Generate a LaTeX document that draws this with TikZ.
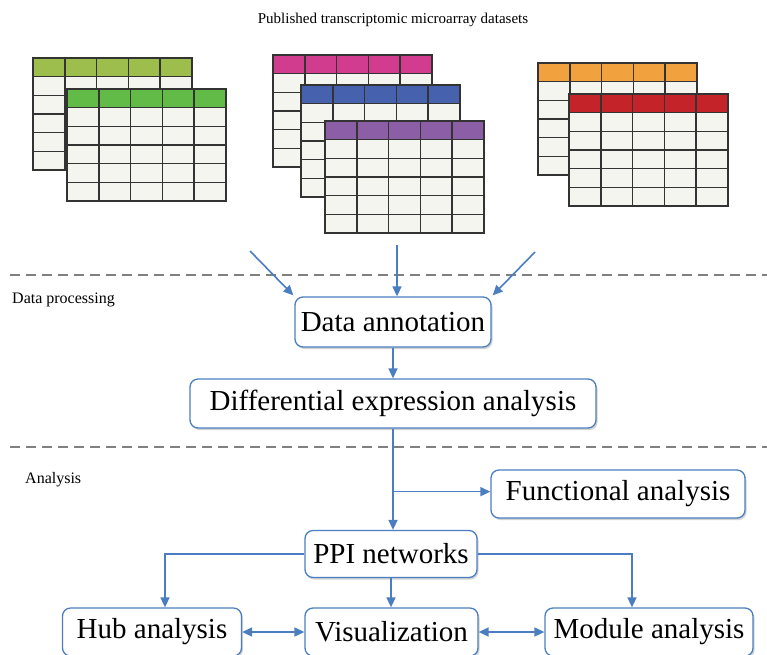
\documentclass[tikz,border=0pt]{standalone}
\usepackage{fontspec}
\setmainfont{Liberation Serif}
\usetikzlibrary{arrows.meta,shadows,calc}
\definecolor{arrblue}{HTML}{4A7EC0}
\definecolor{cellbg}{HTML}{F4F5EF}
\definecolor{gridc}{HTML}{333333}
\definecolor{dashc}{HTML}{808080}
\definecolor{colA}{HTML}{9DBD4C}
\definecolor{colB}{HTML}{62BA47}
\definecolor{colC}{HTML}{D23C8F}
\definecolor{colD}{HTML}{4661AE}
\definecolor{colE}{HTML}{8B5EA6}
\definecolor{colF}{HTML}{F1A13E}
\definecolor{colG}{HTML}{C42329}
\newcommand\datatable[3]{%
  \fill[cellbg] (#1,#2) rectangle ++(159,112);
  \fill[#3] (#1,#2) rectangle ++(159,18.67);
  \foreach \i in {0,...,5}{\draw[gridline] (#1+\i*31.8,#2) -- ++(0,112);}
  \foreach \j in {0,...,6}{\draw[gridline] (#1,#2+\j*18.667) -- ++(159,0);}
}
\begin{document}
\begin{tikzpicture}[x=1pt,y=-1pt,
  gridline/.style={draw=gridc,line width=1.6pt,line cap=rect},
  flowbox/.style={draw=arrblue,line width=1.3pt,rounded corners=8pt,fill=white,
    drop shadow={shadow xshift=1.5pt,shadow yshift=-2pt,fill=black!35},
    font=\fontsize{29}{31}\selectfont,inner sep=0pt,anchor=center},
  arr/.style={draw=arrblue,line width=1.6pt,-{Triangle[length=10pt,width=9pt]}},
  darr/.style={draw=arrblue,line width=1.6pt,{Triangle[length=10pt,width=9pt]}-{Triangle[length=10pt,width=9pt]}},
  sep/.style={draw=dashc,line width=2.6pt,dash pattern=on 10pt off 6pt},
  lbl/.style={font=\fontsize{16}{18}\selectfont,inner sep=0pt}]
\useasboundingbox (0,0) rectangle (767,654);
\clip (0,0) rectangle (767,654);

\node[font=\fontsize{15}{17}\selectfont,inner sep=0pt] (title) at (393,20) {Published transcriptomic microarray datasets};

% tables
\datatable{33}{58}{colA}
\datatable{67}{89}{colB}
\datatable{273}{55}{colC}
\datatable{301}{85}{colD}
\datatable{325}{121}{colE}
\datatable{538}{63}{colF}
\datatable{569}{94}{colG}

% separators
\coordinate (sepA1) at (10,275);
\coordinate (sepA2) at (767,275);
\coordinate (sepB1) at (10,447);
\coordinate (sepB2) at (767,447);
\draw[sep] (sepA1) -- (sepA2);
\draw[sep] (sepB1) -- (sepB2);

\node[lbl,anchor=west] (dp) at (12,300) {Data processing};
\node[lbl,anchor=west] (an) at (25,480) {Analysis};

% boxes
\node[flowbox,minimum width=196pt,minimum height=50pt] (da) at (393,322) {Data annotation};
\node[flowbox,minimum width=406pt,minimum height=49pt] (diff) at (393,403.5) {Differential expression analysis};
\node[flowbox,minimum width=254pt,minimum height=48pt] (func) at (618,494) {Functional analysis};
\node[flowbox,minimum width=172pt,minimum height=47pt] (ppi) at (391,554) {PPI networks};
\node[flowbox,minimum width=179pt,minimum height=48pt] (hub) at (152,632) {Hub analysis};
\node[flowbox,minimum width=173pt,minimum height=48pt] (vis) at (391.5,632) {Visualization};
\node[flowbox,minimum width=208pt,minimum height=48pt] (mod) at (649,632) {Module analysis};

% input arrows
\coordinate (in1) at (250,251);
\coordinate (in2) at (397,245);
\coordinate (in3) at (535,252);
\draw[arr] (in1) -- ([shift={(-1,-1)}]da.north west);
\draw[arr] (in2) -- (in2 |- da.north);
\draw[arr] (in3) -- ([shift={(1,-1)}]da.north east);

% flow
\draw[arr] (da.south) -- (da.south |- diff.north);
\draw[arr] (diff.south) -- (diff.south |- ppi.north);
\coordinate (br) at ($(diff.south)+(0,63)$);
\draw[arr] (br) -- (br -| func.west);
\coordinate (hubin) at ([xshift=13pt]hub.north);
\coordinate (modin) at ([xshift=-17pt]mod.north);
\draw[arr] (ppi.west) -| (hubin);
\draw[arr] (ppi.east) -| (modin);
\draw[arr] (ppi.south) -- (ppi.south |- vis.north);
\draw[darr] (hub.east) -- (vis.west);
\draw[darr] (vis.east) -- (mod.west);
\end{tikzpicture}
\end{document}
